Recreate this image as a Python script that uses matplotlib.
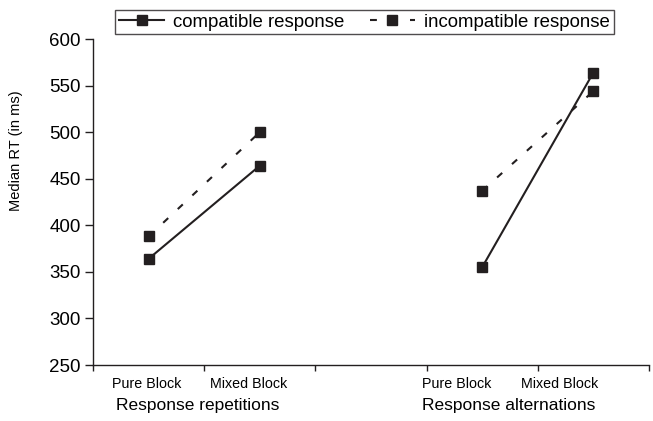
import matplotlib
matplotlib.use('Agg')
import matplotlib.pyplot as plt
import matplotlib.transforms as mtransforms
import numpy as np

plt.rcParams['font.family'] = ['Liberation Sans', 'DejaVu Sans']

# data (median RT in ms)
block_labels = ["Pure Block", "Mixed Block", "Pure Block", "Mixed Block"]
group_labels = ["Response repetitions", "Response alternations"]
rep_x = [0, 1]
alt_x = [3, 4]
compatible_rep = [364, 464]
incompatible_rep = [388, 500]
compatible_alt = [355, 564]
incompatible_alt = [437, 544]

ink = '#231f20'
dash = (0, (3.3, 6.3))

fig = plt.figure(figsize=(6.53, 4.21), dpi=100)
ax = fig.add_axes([93/653, 1-365/421, 556/653, 326/421])

ax.plot(rep_x, compatible_rep, '-', color=ink, lw=1.5, marker='s', ms=6.5,
        label='compatible response')
ax.plot(rep_x, incompatible_rep, linestyle=dash, color=ink, lw=1.5, marker='s', ms=6.5,
        dash_capstyle='butt', label='incompatible response')
ax.plot(alt_x, compatible_alt, '-', color=ink, lw=1.5, marker='s', ms=6.5)
ax.plot(alt_x, incompatible_alt, linestyle=dash, color=ink, lw=1.5, marker='s', ms=6.5,
        dash_capstyle='butt')

ax.set_xlim(-0.5, 4.5)
ax.set_ylim(250, 600)
ax.set_yticks(np.arange(250, 601, 50))
ax.tick_params(axis='y', labelsize=13.5, length=6, width=1, color=ink, pad=3)

# category boundaries as ticks, labels shifted like the original
ax.set_xticks(np.arange(-0.5, 4.6, 1), minor=True)
ax.tick_params(axis='x', which='minor', length=4, width=1, color=ink)
ax.set_xticks([-0.02, 0.9, 2.77, 3.70], block_labels)
ax.tick_params(axis='x', which='major', length=0, labelsize=10.3, pad=9)

trans = mtransforms.blended_transform_factory(ax.transData, ax.transAxes)
ax.text(0.44, -0.123, group_labels[0], transform=trans, ha='center', va='center', fontsize=12.5)
ax.text(3.24, -0.123, group_labels[1], transform=trans, ha='center', va='center', fontsize=12.5)

ax.set_ylabel('Median RT (in ms)', fontsize=10.5)
ax.yaxis.set_label_coords(-0.126, 0.656)

for s in ['top', 'right']:
    ax.spines[s].set_visible(False)
for s in ['left', 'bottom']:
    ax.spines[s].set_color(ink)
    ax.spines[s].set_linewidth(1)

leg = fig.legend(loc='upper left', bbox_to_anchor=(115/653, 1-10/421), ncol=2, fontsize=13.4,
                 frameon=True, fancybox=False, handlelength=2.45, handletextpad=0.48,
                 columnspacing=1.34, borderpad=0.2, borderaxespad=0, numpoints=1)
leg.get_frame().set_edgecolor(ink)
leg.get_frame().set_linewidth(1)

plt.savefig('out.png', dpi=100)
plt.close()
